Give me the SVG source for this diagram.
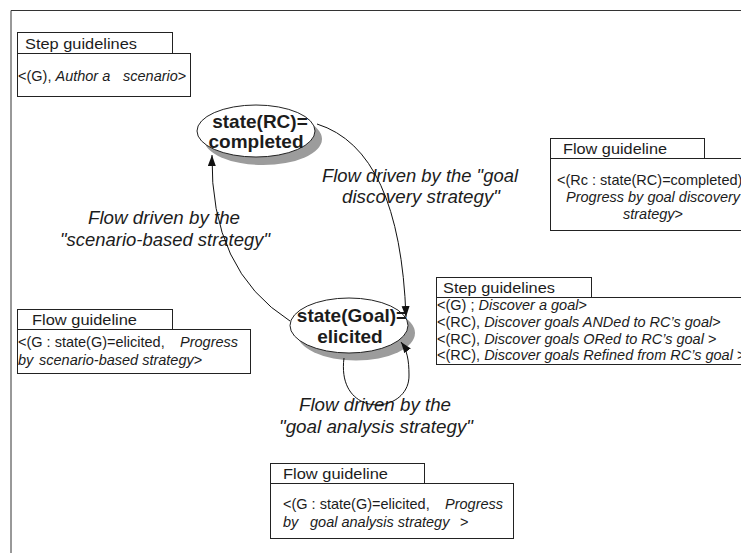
<svg xmlns="http://www.w3.org/2000/svg" width="741" height="553" viewBox="0 0 741 553">
<defs>
<style>
text{font-family:"Liberation Sans",Arial,sans-serif;fill:#1c1c1c}
.box{fill:#fff;stroke:#222;stroke-width:1}
.frame{fill:none;stroke:#333;stroke-width:1}
.hdr{font-size:15px}
.bd{font-size:14.5px}
.it{font-style:italic}
.lbl{font-size:18.5px;font-style:italic;text-anchor:middle}
.st{font-size:19px;font-weight:bold;text-anchor:middle}
.ell{fill:#fff;stroke:#222;stroke-width:1}
.shadow{fill:#9c9c9c;stroke:none}
.conn{fill:none;stroke:#111;stroke-width:1;marker-end:url(#arr)}
</style>
<marker id="arr" markerUnits="userSpaceOnUse" markerWidth="12" markerHeight="9" refX="11" refY="4" orient="auto">
<path d="M0,0 L11,4 L0,8 z" fill="#111"/>
</marker>
</defs>
<rect width="741" height="553" fill="#fff"/>
<path class="frame" d="M11,553 V10.5 H741"/>

<g id="step-guidelines-top">
<rect class="box" x="17.5" y="32.5" width="155" height="21"/>
<rect class="box" x="17.5" y="53.5" width="173" height="43"/>
<text class="hdr" x="25" y="49" textLength="112" lengthAdjust="spacingAndGlyphs">Step guidelines</text>
<text class="bd" x="18" y="81">&lt;(G), <tspan class="it">Author a</tspan><tspan class="it" x="123">scenario</tspan>&gt;</text>
</g>

<g id="flow-guideline-right">
<rect class="box" x="550.5" y="138.5" width="154" height="20"/>
<rect class="box" x="550.5" y="158.5" width="200" height="72"/>
<text class="hdr" x="563" y="154" textLength="104" lengthAdjust="spacingAndGlyphs">Flow guideline</text>
<text class="bd" x="557" y="185">&lt;(Rc : state(RC)=completed)</text>
<text class="bd it" x="566" y="202">Progress by goal discovery</text>
<text class="bd it" x="623" y="219">strategy<tspan font-style="normal">&gt;</tspan></text>
</g>

<g id="step-guidelines-right">
<rect class="box" x="436.5" y="277.5" width="155" height="20"/>
<rect class="box" x="436.5" y="297.5" width="320" height="67"/>
<text class="hdr" x="443" y="293" textLength="112" lengthAdjust="spacingAndGlyphs">Step guidelines</text>
<text class="bd" x="437" y="310">&lt;(G) ; <tspan class="it">Discover a goal</tspan>&gt;</text>
<text class="bd" x="437" y="327">&lt;(RC), <tspan class="it">Discover goals ANDed to RC’s goal</tspan>&gt;</text>
<text class="bd" x="437" y="344">&lt;(RC), <tspan class="it">Discover goals ORed to RC’s goal</tspan> &gt;</text>
<text class="bd" x="437" y="360">&lt;(RC), <tspan class="it">Discover goals Refined from RC’s goal</tspan> &gt;</text>
</g>

<g id="flow-guideline-left">
<rect class="box" x="17.5" y="309.5" width="155" height="20"/>
<rect class="box" x="17.5" y="329.5" width="233" height="44"/>
<text class="hdr" x="32" y="325" textLength="105" lengthAdjust="spacingAndGlyphs">Flow guideline</text>
<text class="bd" x="18" y="347">&lt;(G : state(G)=elicited,<tspan class="it" x="180">Progress</tspan></text>
<text class="bd it" x="18" y="365">by<tspan x="39">scenario-based strategy</tspan><tspan font-style="normal">&gt;</tspan></text>
</g>

<g id="flow-guideline-bottom">
<rect class="box" x="270.5" y="463.5" width="154" height="20"/>
<rect class="box" x="270.5" y="483.5" width="243" height="55"/>
<text class="hdr" x="283" y="479" textLength="105" lengthAdjust="spacingAndGlyphs">Flow guideline</text>
<text class="bd" x="283" y="509">&lt;(G : state(G)=elicited,<tspan class="it" x="445">Progress</tspan></text>
<text class="bd it" x="283" y="527">by<tspan x="310">goal analysis strategy</tspan><tspan font-style="normal" x="460">&gt;</tspan></text>
</g>

<g id="state-rc">
<ellipse class="shadow" cx="263" cy="139" rx="59" ry="26"/>
<ellipse class="ell" cx="256" cy="131" rx="59" ry="26"/>
<text class="st" x="260" y="128">state(RC)=</text>
<text class="st" x="256" y="148">completed</text>
</g>

<g id="state-goal">
<ellipse class="shadow" cx="356" cy="333" rx="59" ry="27.5"/>
<ellipse class="ell" cx="349" cy="325.5" rx="59" ry="27.5"/>
<text class="st" x="352" y="322">state(Goal)=</text>
<text class="st" x="350" y="343">elicited</text>
</g>

<g id="labels">
<text class="lbl" x="420" y="182" textLength="196" lengthAdjust="spacingAndGlyphs">Flow driven by the "goal</text>
<text class="lbl" x="421" y="203" textLength="158" lengthAdjust="spacingAndGlyphs">discovery strategy"</text>
<text class="lbl" x="164" y="224" textLength="152" lengthAdjust="spacingAndGlyphs">Flow driven by the</text>
<text class="lbl" x="165" y="246" textLength="210" lengthAdjust="spacingAndGlyphs">"scenario-based strategy"</text>
<text class="lbl" x="375" y="411" textLength="152" lengthAdjust="spacingAndGlyphs">Flow driven by the</text>
<text class="lbl" x="376" y="433" textLength="194" lengthAdjust="spacingAndGlyphs">"goal analysis strategy"</text>
</g>

<g id="connectors">
<path class="conn" d="M317,124 Q400,150 406,317"/>
<path class="conn" d="M290,321 Q210,270 212,155"/>
<path class="conn" d="M344,358 C336,420 410,415 409,375 C409,360 407,350 401,342"/>
</g>
</svg>
